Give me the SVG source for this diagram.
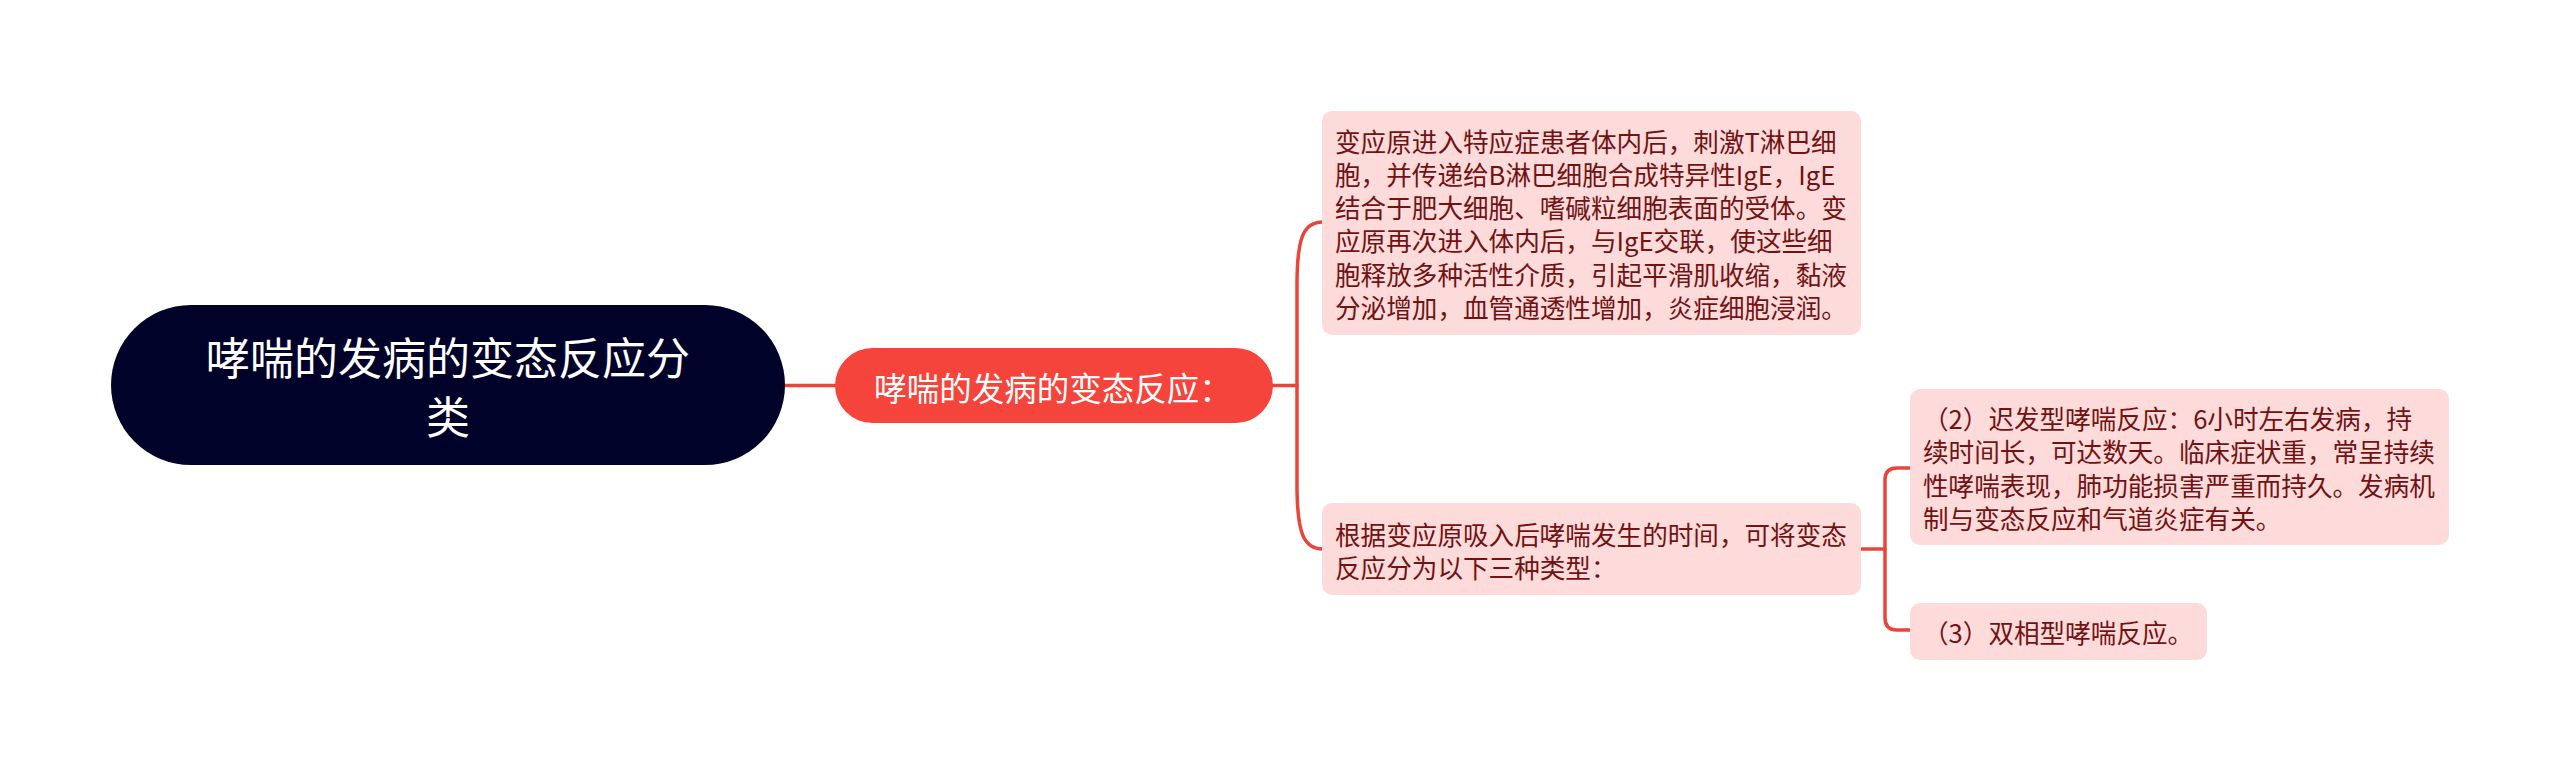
<svg xmlns="http://www.w3.org/2000/svg" width="2560" height="771" viewBox="0 0 2560 771">
<style>
  .conn { fill: none; stroke: #e8453c; stroke-width: 3.5; stroke-linecap: round; }
  .leaf { fill: #fddbdb; }
  .leaftext { font-family: "Noto Sans CJK SC", "Noto Sans", sans-serif; font-size: 25.6px; fill: #721212; dominant-baseline: central; }
  .roottext { font-family: "Noto Sans CJK SC", "Noto Sans", sans-serif; font-size: 44px; fill: #ffffff; dominant-baseline: central; text-anchor: middle; }
  .subtext { font-family: "Noto Sans CJK SC", "Noto Sans", sans-serif; font-size: 32.5px; fill: #ffffff; dominant-baseline: central; text-anchor: middle; }
</style>
<rect width="2560" height="771" fill="#ffffff"/>
<g id="connectors">
  <path class="conn" d="M785,385.5 L835,385.5"/>
  <path class="conn" d="M1273,385.5 L1297,385.5"/>
  <path class="conn" d="M1323,222 C1304,222 1297,236 1297,285 L1297,485 C1297,534 1304,549 1323,549"/>
  <path class="conn" d="M1861,549 L1885,549"/>
  <path class="conn" d="M1910,468 L1897,468 Q1885,468 1885,480 L1885,618 Q1885,630 1897,630 L1910,630"/>
</g>
<g id="root">
  <rect x="111" y="305" width="674" height="160" rx="80" ry="80" fill="#000229"/>
  <text class="roottext" x="448" y="356">哮喘的发病的变态反应分</text>
  <text class="roottext" x="448" y="415">类</text>
</g>
<g id="sub">
  <rect x="835" y="348" width="438" height="75" rx="37.5" ry="37.5" fill="#f5443b"/>
  <text class="subtext" x="1053" y="386">哮喘的发病的变态反应：</text>
</g>
<g id="leaf1">
  <rect class="leaf" x="1322" y="111" width="539" height="224" rx="10" ry="10"/>
  <text class="leaftext" x="1335">
    <tspan x="1335" y="139.5">变应原进入特应症患者体内后，刺激T淋巴细</tspan>
    <tspan x="1335" y="172.8">胞，并传递给B淋巴细胞合成特异性IgE，IgE</tspan>
    <tspan x="1335" y="206.1">结合于肥大细胞、嗜碱粒细胞表面的受体。变</tspan>
    <tspan x="1335" y="239.4">应原再次进入体内后，与IgE交联，使这些细</tspan>
    <tspan x="1335" y="272.7">胞释放多种活性介质，引起平滑肌收缩，黏液</tspan>
    <tspan x="1335" y="306">分泌增加，血管通透性增加，炎症细胞浸润。</tspan>
  </text>
</g>
<g id="leaf2">
  <rect class="leaf" x="1322" y="503" width="539" height="92" rx="10" ry="10"/>
  <text class="leaftext" x="1335">
    <tspan x="1335" y="532.5">根据变应原吸入后哮喘发生的时间，可将变态</tspan>
    <tspan x="1335" y="565.8">反应分为以下三种类型：</tspan>
  </text>
</g>
<g id="leaf3">
  <rect class="leaf" x="1910" y="389" width="539" height="156" rx="10" ry="10"/>
  <text class="leaftext" x="1923">
    <tspan x="1923" y="417">（2）迟发型哮喘反应：6小时左右发病，持</tspan>
    <tspan x="1923" y="450.3">续时间长，可达数天。临床症状重，常呈持续</tspan>
    <tspan x="1923" y="483.6">性哮喘表现，肺功能损害严重而持久。发病机</tspan>
    <tspan x="1923" y="516.9">制与变态反应和气道炎症有关。</tspan>
  </text>
</g>
<g id="leaf4">
  <rect class="leaf" x="1910" y="603" width="297" height="57" rx="10" ry="10"/>
  <text class="leaftext" x="1923" y="631.5">（3）双相型哮喘反应。</text>
</g>
</svg>
